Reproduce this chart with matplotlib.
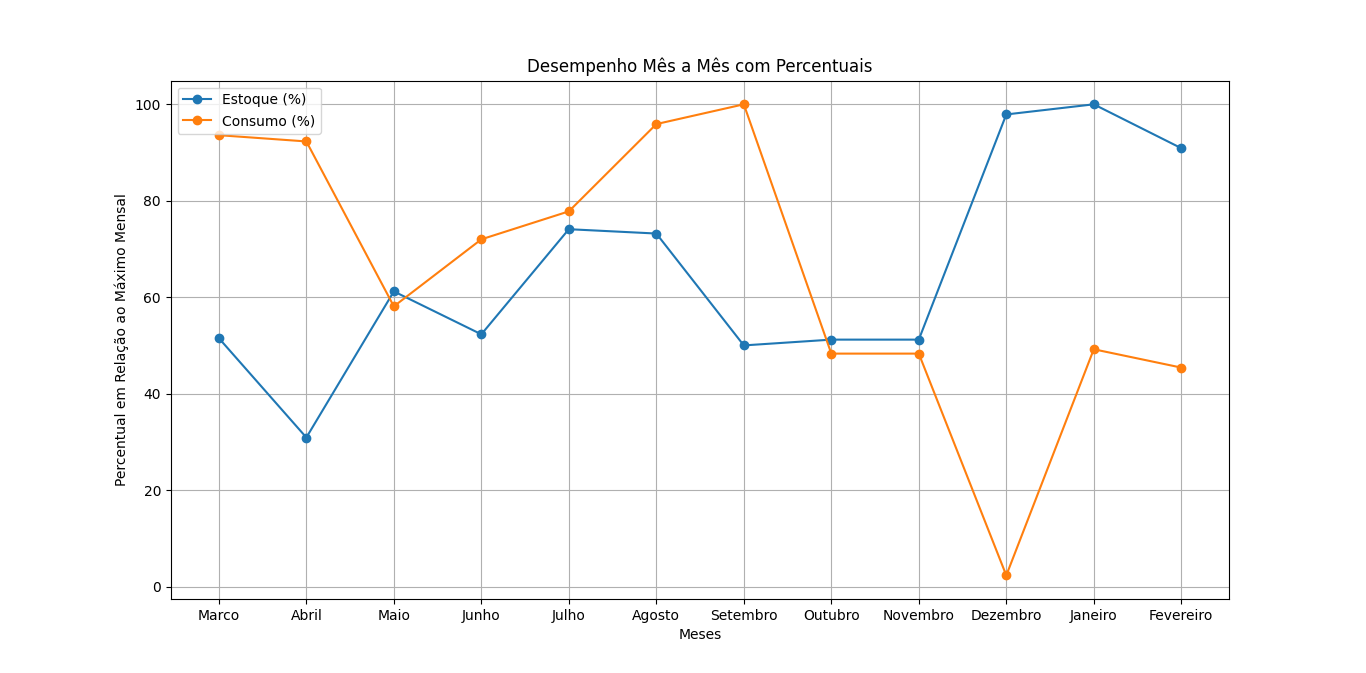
import matplotlib
matplotlib.use("Agg")
import matplotlib.pyplot as plt

meses = ["Marco", "Abril", "Maio", "Junho", "Julho", "Agosto", "Setembro",
         "Outubro", "Novembro", "Dezembro", "Janeiro", "Fevereiro"]
estoque = [51.5, 30.9, 61.2, 52.3, 74.1, 73.2, 50.0, 51.2, 51.2, 97.9, 100.0, 90.9]
consumo = [93.6, 92.3, 58.1, 72.0, 77.8, 95.9, 100.0, 48.3, 48.3, 2.3, 49.2, 45.4]

fig, ax = plt.subplots(figsize=(13.66, 6.73), dpi=100)
ax.plot(meses, estoque, marker="o", label="Estoque (%)")
ax.plot(meses, consumo, marker="o", label="Consumo (%)")
ax.set_title("Desempenho Mês a Mês com Percentuais")
ax.set_xlabel("Meses")
ax.set_ylabel("Percentual em Relação ao Máximo Mensal")
ax.legend(loc="upper left")
ax.grid(True)
fig.savefig("out.png", dpi=100)
